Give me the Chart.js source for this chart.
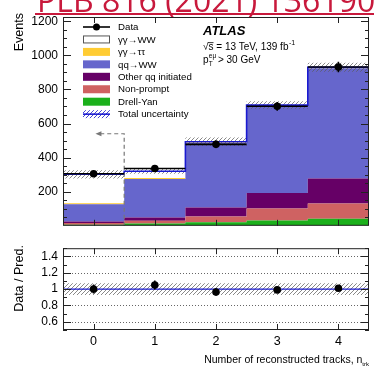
<!DOCTYPE html>
<html><head><meta charset="utf-8">
<script src="https://cdn.jsdelivr.net/npm/chart.js@4.4.0/dist/chart.umd.min.js"></script>
<style>
html,body{margin:0;padding:0;background:#fff;width:374px;height:369px;overflow:hidden;position:relative}
#ref{position:absolute;left:37px;top:-16px;font:32px 'Open Sans',sans-serif;line-height:32px;color:#c8193c;white-space:nowrap}
#refline{position:absolute;left:35px;top:13px;width:339px;height:2px;background:#c8193c}
canvas{position:absolute;left:0}
#top{top:0}
#bot{top:236px}
</style></head><body>
<canvas id="top" width="374" height="238"></canvas>
<canvas id="bot" width="374" height="133"></canvas>
<div id="ref">PLB 816 (2021) 136190</div>
<div id="refline"></div>
<script>
// n_trk bins
const bins = [0, 1, 2, 3, 4];
const binLabels = ['0', '1', '2', '3', '4'];
// expected events per process, bottom of the stack first
const drellYan  = [6, 14, 21, 31, 42];
const nonPrompt = [11, 16, 33, 70, 89];
const otherQQ   = [8, 19, 54, 92, 146];
const qqWW      = [101, 225, 378, 509, 648];
const aaTauTau  = [7, 6, 3, 2, 2];
const aaWW      = [169, 40, 4, 4, 3];
const totalUnc  = [24, 15, 25, 22, 26];
// observed
const dataCounts = [305, 336, 478, 701, 932];
const dataErr    = [17, 18, 22, 26, 31];
// data / prediction
const ratio     = [1.00, 1.05, 0.965, 0.99, 1.01];
const ratioErr  = [0.055, 0.055, 0.045, 0.038, 0.033];
const ratioUnc  = [0.072, 0.072, 0.072, 0.072, 0.072];
// axis ticks
const eventTicks = [200, 400, 600, 800, 1000, 1200];
const eventTickLabels = ['200', '400', '600', '800', '1000', '1200'];
const ratioTicks = [0.6, 0.8, 1.0, 1.2, 1.4];
const ratioTickLabels = ['0.6', '0.8', '1', '1.2', '1.4'];

const FONT = "'Liberation Sans', Arial, Helvetica, sans-serif";
Chart.defaults.font.family = FONT;
Chart.defaults.color = '#000';

const COLORS = {
  dy: '#1bb01b', np: '#cf6262', other: '#660066', qq: '#6666cc',
  tautau: '#ffcc33', aaww: '#ffffff', total: '#1a1ad0'
};

// cumulative stack tops
const layers = [drellYan, nonPrompt, otherQQ, qqWW, aaTauTau, aaWW];
const cum = [];
let run = bins.map(() => 0);
layers.forEach(l => { run = run.map((v, i) => v + l[i]); cum.push(run); });
const total = cum[cum.length - 1];

// histogram outline: each bin becomes a flat segment from edge to edge
function steps(vals) {
  const pts = [];
  vals.forEach((v, i) => { pts.push({x: bins[i] - 0.5, y: v}, {x: bins[i] + 0.5, y: v}); });
  return pts;
}

function hatch(ctx, color) {
  const s = 4, c = document.createElement('canvas');
  c.width = c.height = s;
  const g = c.getContext('2d');
  g.strokeStyle = color; g.lineWidth = 0.9;
  g.beginPath();
  g.moveTo(0, s); g.lineTo(s, 0);
  g.moveTo(-1, 1); g.lineTo(1, -1);
  g.moveTo(s - 1, s + 1); g.lineTo(s + 1, s - 1);
  g.stroke();
  return ctx.createPattern(c, 'repeat');
}

const topCtx = document.getElementById('top').getContext('2d');
const botCtx = document.getElementById('bot').getContext('2d');
const hatchTop = hatch(topCtx, 'rgba(90,90,90,0.8)');
const hatchBot = hatch(botCtx, 'rgba(90,90,90,0.8)');
const hatchLegend = hatch(topCtx, '#3030d0');

function area(label, vals, color, fillTo) {
  return {label, data: steps(vals), fill: fillTo, backgroundColor: color,
          borderColor: 'transparent', borderWidth: 0, pointRadius: 0, order: 10};
}

function drawFrame(chart, yMajor, yMinor) {
  const {ctx, chartArea: a, scales: {x, y}} = chart;
  ctx.save();
  ctx.strokeStyle = '#222'; ctx.lineWidth = 1;
  ctx.strokeRect(a.left + 0.5, a.top + 0.5, a.right - a.left - 1, a.bottom - a.top - 1);
  ctx.beginPath();
  const tick = (v, len) => {
    const p = Math.round(y.getPixelForValue(v)) + 0.5;
    ctx.moveTo(a.left, p); ctx.lineTo(a.left + len, p);
    ctx.moveTo(a.right, p); ctx.lineTo(a.right - len, p);
  };
  yMajor.forEach(v => tick(v, 8));
  yMinor.forEach(v => tick(v, 4));
  bins.forEach(b => {
    const p = Math.round(x.getPixelForValue(b)) + 0.5;
    ctx.moveTo(p, a.top); ctx.lineTo(p, a.top + 6);
    ctx.moveTo(p, a.bottom); ctx.lineTo(p, a.bottom - 6);
  });
  ctx.stroke();
  ctx.restore();
}

function rotatedLabel(ctx, text, x, y, align) {
  ctx.save();
  ctx.translate(x, y);
  ctx.rotate(-Math.PI / 2);
  ctx.textAlign = align; ctx.textBaseline = 'middle';
  ctx.font = '12.5px ' + FONT; ctx.fillStyle = '#000';
  ctx.fillText(text, 0, 0);
  ctx.restore();
}

const eventMinor = [];
for (let v = 50; v < 1225; v += 50) if (v % 200) eventMinor.push(v);
const ratioMinor = [];
for (let v = 5; v <= 15; v++) if (v % 2) ratioMinor.push(v / 10);

const legendItems = [
  {label: 'Data', kind: 'data'},
  {label: '\u03b3\u03b3\u2192WW', kind: 'box', color: COLORS.aaww, edge: '#555'},
  {label: '\u03b3\u03b3\u2192\u03c4\u03c4', kind: 'box', color: COLORS.tautau},
  {label: 'qq\u2192WW', kind: 'box', color: COLORS.qq},
  {label: 'Other qq initiated', kind: 'box', color: COLORS.other},
  {label: 'Non-prompt', kind: 'box', color: COLORS.np},
  {label: 'Drell-Yan', kind: 'box', color: COLORS.dy},
  {label: 'Total uncertainty', kind: 'unc'}
];

const topPlugin = {
  id: 'topDecor',
  afterDatasetsDraw(chart) {
    const {ctx, chartArea: a, scales: {x, y}} = chart;
    ctx.save();
    // signal region marker
    ctx.strokeStyle = '#777'; ctx.lineWidth = 1.2; ctx.setLineDash([4, 3]);
    const ex = x.getPixelForValue(0.5), ay = y.getPixelForValue(540), tip = x.getPixelForValue(0.03);
    ctx.beginPath();
    ctx.moveTo(ex, a.bottom); ctx.lineTo(ex, ay); ctx.lineTo(tip + 4, ay);
    ctx.stroke();
    ctx.setLineDash([]);
    ctx.fillStyle = '#777';
    ctx.beginPath(); ctx.moveTo(tip, ay); ctx.lineTo(tip + 6, ay - 2.5); ctx.lineTo(tip + 6, ay + 2.5); ctx.closePath(); ctx.fill();
    // data bars
    ctx.strokeStyle = '#000'; ctx.lineWidth = 1.6;
    ctx.beginPath();
    dataCounts.forEach((v, i) => {
      const py = y.getPixelForValue(v);
      ctx.moveTo(x.getPixelForValue(bins[i] - 0.5), py); ctx.lineTo(x.getPixelForValue(bins[i] + 0.5), py);
      const px = x.getPixelForValue(bins[i]);
      ctx.moveTo(px, y.getPixelForValue(v - dataErr[i])); ctx.lineTo(px, y.getPixelForValue(v + dataErr[i]));
    });
    ctx.stroke();
    ctx.restore();
  },
  afterDraw(chart) {
    const {ctx} = chart;
    drawFrame(chart, eventTicks, eventMinor);
    ctx.save();
    // legend
    ctx.font = '9.7px ' + FONT; ctx.textBaseline = 'middle'; ctx.textAlign = 'left';
    legendItems.forEach((it, k) => {
      const cy = 27 + k * 12.45, x0 = 83, w = 27, h = 8;
      if (it.kind === 'data') {
        ctx.strokeStyle = '#000'; ctx.lineWidth = 1.6;
        ctx.beginPath(); ctx.moveTo(x0, cy); ctx.lineTo(x0 + w, cy); ctx.stroke();
        ctx.fillStyle = '#000'; ctx.beginPath(); ctx.arc(x0 + w / 2, cy, 3.5, 0, Math.PI * 2); ctx.fill();
      } else if (it.kind === 'box') {
        ctx.fillStyle = it.color; ctx.fillRect(x0, cy - h / 2, w, h);
        if (it.edge) { ctx.strokeStyle = it.edge; ctx.lineWidth = 1; ctx.strokeRect(x0 + 0.5, cy - h / 2 + 0.5, w - 1, h - 1); }
      } else {
        ctx.fillStyle = hatchLegend; ctx.fillRect(x0, cy - h / 2, w, h);
        ctx.strokeStyle = COLORS.total; ctx.lineWidth = 1.6;
        ctx.beginPath(); ctx.moveTo(x0, cy); ctx.lineTo(x0 + w, cy); ctx.stroke();
      }
      ctx.fillStyle = '#000';
      ctx.fillText(it.label, 118, cy + 0.5);
    });
    // labels
    ctx.textBaseline = 'alphabetic';
    ctx.font = 'bold italic 13px ' + FONT;
    ctx.fillText('ATLAS', 203, 35);
    ctx.font = '10px ' + FONT;
    let tx = 203;
    const s1 = '\u221as = 13 TeV, 139 fb';
    ctx.fillText(s1, tx, 50);
    const sw = ctx.measureText('\u221a').width, ssw = ctx.measureText('s').width;
    ctx.fillRect(tx + sw - 0.5, 42.3, ssw + 0.5, 0.8);
    tx += ctx.measureText(s1).width;
    ctx.font = '7px ' + FONT; ctx.fillText('-1', tx + 0.5, 45);
    tx = 203;
    ctx.font = '10px ' + FONT; ctx.fillText('p', tx, 63);
    tx += ctx.measureText('p').width;
    ctx.font = '6.5px ' + FONT;
    ctx.fillText('T', tx + 0.3, 66);
    ctx.fillText('e\u03bc', tx + 0.3, 57.5);
    tx += ctx.measureText('e\u03bc').width + 2;
    ctx.font = '10px ' + FONT; ctx.fillText('> 30 GeV', tx, 63);
    ctx.restore();
    rotatedLabel(ctx, 'Events', 20, 13, 'right');
  }
};

const botPlugin = {
  id: 'botDecor',
  beforeDatasetsDraw(chart) {
    const {ctx, chartArea: a, scales: {y}} = chart;
    ctx.save();
    ctx.strokeStyle = '#666'; ctx.lineWidth = 1; ctx.setLineDash([1, 2]);
    ctx.beginPath();
    ratioTicks.forEach(v => {
      if (v === 1) return;
      const p = Math.round(y.getPixelForValue(v)) + 0.5;
      ctx.moveTo(a.left, p); ctx.lineTo(a.right, p);
    });
    ctx.stroke();
    ctx.restore();
  },
  afterDatasetsDraw(chart) {
    const {ctx, scales: {x, y}} = chart;
    ctx.save();
    ctx.strokeStyle = '#000'; ctx.lineWidth = 1.6;
    ctx.beginPath();
    ratio.forEach((v, i) => {
      const px = x.getPixelForValue(bins[i]);
      ctx.moveTo(px, y.getPixelForValue(v - ratioErr[i])); ctx.lineTo(px, y.getPixelForValue(v + ratioErr[i]));
    });
    ctx.stroke();
    ctx.restore();
  },
  afterDraw(chart) {
    const {ctx} = chart;
    drawFrame(chart, ratioTicks, ratioMinor);
    rotatedLabel(ctx, 'Data / Pred.', 20, 42.5, 'center');
    ctx.save();
    ctx.fillStyle = '#000'; ctx.textBaseline = 'alphabetic'; ctx.textAlign = 'left';
    ctx.font = '6px ' + FONT;
    const subW = ctx.measureText('trk').width;
    ctx.font = '10.5px ' + FONT;
    const main = 'Number of reconstructed tracks, n';
    const mw = ctx.measureText(main).width;
    const x0 = 369 - subW - mw;
    ctx.fillText(main, x0, 127);
    ctx.font = '6px ' + FONT;
    ctx.fillText('trk', x0 + mw, 130);
    ctx.restore();
  }
};

const xScale = (show) => ({
  type: 'linear', min: -0.5, max: 4.5, display: show,
  afterBuildTicks: s => { s.ticks = bins.map(v => ({value: v})); },
  ticks: {callback: (v, i) => binLabels[i], font: {size: 12.5}, padding: 4, maxRotation: 0, autoSkip: false},
  grid: {display: false, drawTicks: false}, border: {display: false},
  afterFit: s => { if (show) s.height = 39; }
});

new Chart(topCtx, {
  type: 'line',
  data: {datasets: [
    area('Drell-Yan', cum[0], COLORS.dy, 'origin'),
    area('Non-prompt', cum[1], COLORS.np, '-1'),
    area('Other qq initiated', cum[2], COLORS.other, '-1'),
    area('qq\u2192WW', cum[3], COLORS.qq, '-1'),
    area('\u03b3\u03b3\u2192\u03c4\u03c4', cum[4], COLORS.tautau, '-1'),
    area('\u03b3\u03b3\u2192WW', cum[5], COLORS.aaww, '-1'),
    {label: 'unc-', data: steps(total.map((v, i) => v - totalUnc[i])), fill: false,
     borderColor: 'transparent', borderWidth: 0, pointRadius: 0, order: 6},
    {label: 'Total uncertainty', data: steps(total.map((v, i) => v + totalUnc[i])), fill: '-1',
     backgroundColor: hatchTop, borderColor: 'transparent', borderWidth: 0, pointRadius: 0, order: 5},
    {label: 'Total', data: steps(total), fill: false, borderColor: COLORS.total, borderWidth: 1.6,
     pointRadius: 0, order: 3},
    {label: 'Data', data: dataCounts.map((v, i) => ({x: bins[i], y: v})), showLine: false,
     pointRadius: 3.8, pointBackgroundColor: '#000', pointBorderWidth: 0, order: 1}
  ]},
  options: {
    responsive: false, animation: false, devicePixelRatio: 1, events: [],
    layout: {padding: {top: 17, bottom: 2.5, right: 5, left: 0}},
    plugins: {legend: {display: false}, tooltip: {enabled: false}},
    scales: {
      x: xScale(false),
      y: {type: 'linear', min: 0, max: 1225,
          afterBuildTicks: s => { s.ticks = eventTicks.map(v => ({value: v})); },
          afterFit: s => { s.width = 63; },
          ticks: {font: {size: 12}, padding: 5, callback: (v, i) => eventTickLabels[i]},
          grid: {display: false, drawTicks: false}, border: {display: false}}
    }
  },
  plugins: [topPlugin]
});

new Chart(botCtx, {
  type: 'line',
  data: {datasets: [
    {label: 'unc-', data: steps(ratioUnc.map(u => 1 - u)), fill: false,
     borderColor: 'transparent', borderWidth: 0, pointRadius: 0, order: 6},
    {label: 'unc+', data: steps(ratioUnc.map(u => 1 + u)), fill: '-1',
     backgroundColor: hatchBot, borderColor: 'transparent', borderWidth: 0, pointRadius: 0, order: 5},
    {label: 'unity', data: steps(bins.map(() => 1)), fill: false, borderColor: COLORS.total,
     borderWidth: 1.4, pointRadius: 0, order: 3},
    {label: 'Data / Pred.', data: ratio.map((v, i) => ({x: bins[i], y: v})), showLine: false,
     pointRadius: 3.8, pointBackgroundColor: '#000', pointBorderWidth: 0, order: 1}
  ]},
  options: {
    responsive: false, animation: false, devicePixelRatio: 1, events: [],
    layout: {padding: {top: 4, bottom: 0, right: 5, left: 0}},
    plugins: {legend: {display: false}, tooltip: {enabled: false}},
    scales: {
      x: xScale(true),
      y: {type: 'linear', min: 0.5, max: 1.5,
          afterBuildTicks: s => { s.ticks = ratioTicks.map(v => ({value: v})); },
          afterFit: s => { s.width = 63; },
          ticks: {font: {size: 12}, padding: 5, callback: (v, i) => ratioTickLabels[i]},
          grid: {display: false, drawTicks: false}, border: {display: false}}
    }
  },
  plugins: [botPlugin]
});
</script></body></html>
